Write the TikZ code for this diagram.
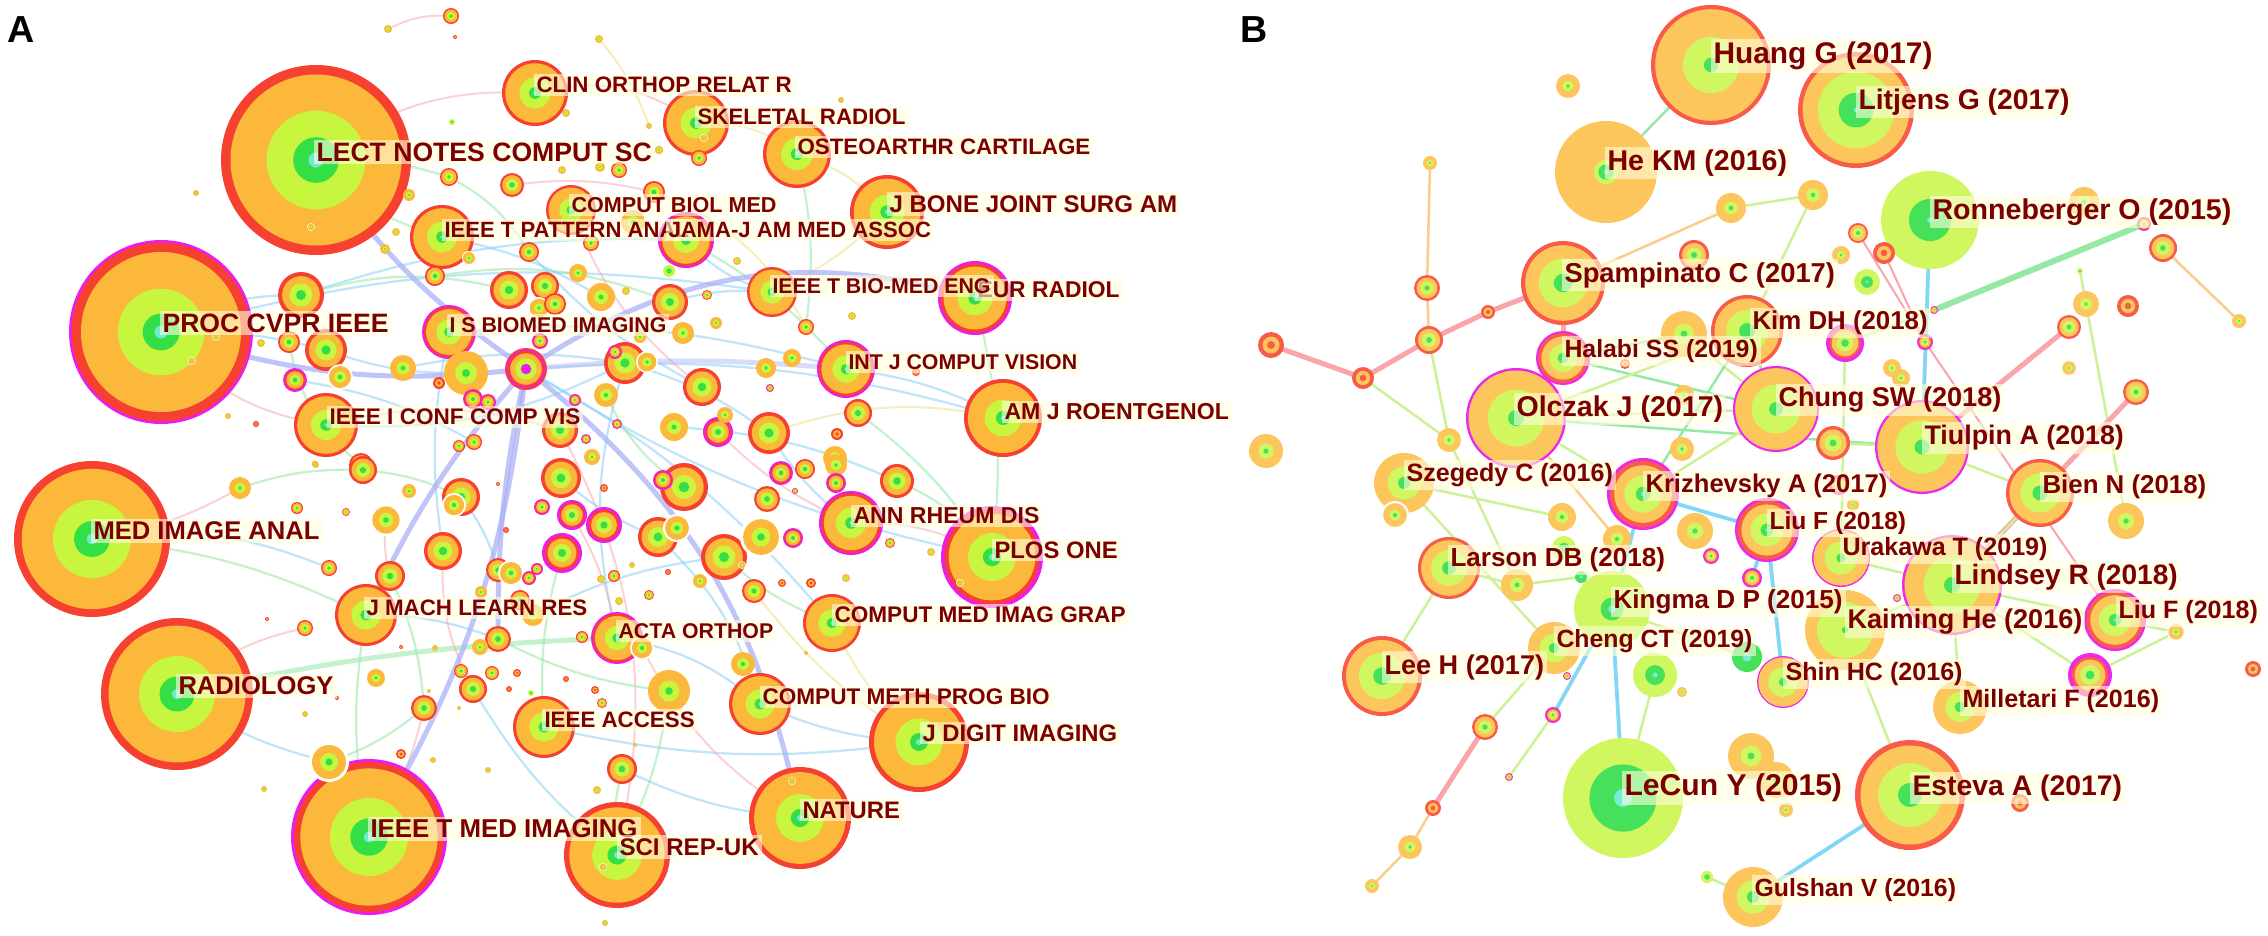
\documentclass[tikz,border=0pt]{standalone}
\usepackage{fontspec}
\setmainfont{Liberation Sans}

% ring colours (panel A)
\definecolor{rred}{RGB}{246,64,48}
\definecolor{rorg}{RGB}{252,184,58}
\definecolor{rlime}{RGB}{200,246,62}
\definecolor{rgrn}{RGB}{52,222,70}
\definecolor{rcyan}{RGB}{110,235,205}
\definecolor{rmag}{RGB}{236,28,236}
% ring colours (panel B, lighter)
\definecolor{qred}{RGB}{248,92,72}
\definecolor{qorg}{RGB}{252,198,92}
\definecolor{qlime}{RGB}{208,246,96}
\definecolor{qgrn}{RGB}{70,225,90}
\definecolor{qcyan}{RGB}{120,235,210}
\definecolor{qmag}{RGB}{236,40,236}
% text and links
\definecolor{lblred}{RGB}{125,0,0}
\definecolor{lblbg}{RGB}{255,255,222}
\definecolor{lavcol}{RGB}{170,178,246}
\definecolor{bluecol}{RGB}{130,205,245}
\definecolor{greencol}{RGB}{150,232,165}
\definecolor{pinkcol}{RGB}{250,165,170}
\definecolor{yelcol}{RGB}{240,225,140}
\definecolor{limecol}{RGB}{205,242,150}
\definecolor{orgcol}{RGB}{250,205,140}
\definecolor{cyancol}{RGB}{130,215,245}

% rings: colour/fraction of radius, outside in
\def\ringf{rred/1,rorg/0.82,rlime/0.5,rgrn/0.22}
\def\ringm{rmag/1,rred/0.85,rorg/0.72,rlime/0.45,rgrn/0.2}
\def\ringo{rorg/1,rlime/0.5,rgrn/0.18}
\def\ringw{white/1,rorg/0.85,rlime/0.45,rgrn/0.18}
\def\ringr{rred/1,rorg/0.65,rred/0.3}
\def\ringl{rlime/1,rgrn/0.45,rcyan/0.12}
\def\ringh{rred/1,rmag/0.92,rred/0.85,rorg/0.75,rlime/0.5,rmag/0.25}
\def\ringlect{rred/1,rorg/0.9,rlime/0.52,rgrn/0.24,rcyan/0.08}
\def\ringproc{rmag/1,rred/0.97,rorg/0.87,rlime/0.47,rgrn/0.2,rcyan/0.07}
\def\ringbig{rred/1,rorg/0.9,rlime/0.5,rgrn/0.23,rcyan/0.07}
\def\ringbigm{rmag/1,rred/0.96,rorg/0.88,rlime/0.5,rgrn/0.24,rcyan/0.07}
\def\ringmid{rred/1,rorg/0.9,rlime/0.47,rgrn/0.18,rcyan/0.06}
\def\ringmidm{rmag/1,rred/0.93,rorg/0.85,rlime/0.47,rgrn/0.18,rcyan/0.06}
\def\ringF{qred/1,qorg/0.8,qlime/0.5,qgrn/0.2}
\def\ringM{qmag/1,qred/0.82,qorg/0.7,qlime/0.45,qgrn/0.2}
\def\ringO{qorg/1,qlime/0.45,qgrn/0.15}
\def\ringW{white/1,qorg/0.85,qlime/0.4,qgrn/0.15}
\def\ringR{qred/1,qorg/0.65,qred/0.3}
\def\ringL{qlime/1,qgrn/0.45,qcyan/0.12}
\def\ringG{qgrn/1,qcyan/0.3}
\def\ringhuang{qred/1,qorg/0.93,qlime/0.47,qgrn/0.12}
\def\ringhekm{qorg/1,qlime/0.24,qgrn/0.15,qcyan/0.05}
\def\ringlitjens{qred/1,qorg/0.92,qlime/0.66,qgrn/0.3,qcyan/0.04}
\def\ringronne{qlime/1,qgrn/0.43,qcyan/0.06}
\def\ringlecun{qlime/1,qgrn/0.56,qcyan/0.15}
\def\ringkingma{qlime/1,qgrn/0.3,qcyan/0.1}
\def\ringbf{qred/1,qorg/0.9,qlime/0.58,qgrn/0.22}
\def\ringbm{qmag/1,qorg/0.95,qlime/0.57,qgrn/0.16}
\def\ringbmr{qmag/1,qred/0.92,qorg/0.8,qlime/0.52,qgrn/0.2,qcyan/0.06}
\def\ringbo{qorg/1,qlime/0.55,qgrn/0.2}
\def\ringkaim{qorg/1,qlime/0.7,qgrn/0.08}

% one citation node: name, outer radius, ring kind
\newcommand{\ringnode}[3]{%
  \expandafter\let\expandafter\ringlist\csname ring#3\endcsname
  \foreach \rc/\rf in \ringlist {\fill[fill=\rc] (#1) circle ({#2*\rf});}%
}

% small nodes: name/x/y/radius/kind
\def\dotsA{a1/451/16/8/f,a2/388/29/4/o,a3/455/37/2/r,a4/311/227/4/w,a5/216/337/4/w,a6/192/361/4/w,
a7/449/177/9/f,a8/512/185/12/f,a9/301/295/23/f,a10/289/342/11/f,a11/326/350/21/f,a12/340/377/13/w,
a13/295/380/12/m,a14/403/368/13/o,a15/466/373/22/o,hubA/526/369/21/h,a17/509/290/19/f,a18/545/286/14/f,
a19/539/308/11/w,a20/555/304/11/f,a21/540/341/8/m,a22/529/252/10/f,a23/435/276/10/f,a24/469/258/7/w,
a25/439/383/6/r,a26/473/399/10/m,a27/488/402/8/m,a28/474/442/8/f,a29/459/446/6/f,a30/560/430/18/f,
a31/409/195/6/o,a32/385/249/5/o,a33/396/232/4/o,a34/196/193/3/o,a35/261/343/4/o,a36/228/416/3/o,
a37/256/424/3/r,a38/315/464/4/w,a39/361/465/12/f,a40/566/113/4/o,a41/562/170/4/o,a42/452/122/3/l,
a43/599/39/4/o,a44/704/138/4/w,a45/699/158/8/f,a46/649/126/3/o,a47/841/100/3/o,a48/659/150/5/w,
a49/619/170/8/f,a50/600/167/5/o,a51/654/192/11/f,a52/633/222/12/o,a53/591/243/8/f,a54/737/261/4/o,
a55/578/273/9/o,a56/669/271/6/l,a57/601/297/14/o,a58/626/291/4/o,a59/670/302/18/f,a60/707/295/5/f,
a61/683/333/11/o,a62/640/337/6/o,a63/716/323/6/o,a64/806/327/8/f,a65/852/316/4/o,a66/625/363/21/f,
a67/647/362/11/w,a68/615/352/7/m,a69/702/387/19/f,a70/606/395/12/o,a71/575/400/6/m,a72/617/424/5/m,
a73/586/439/5/m,a74/592/457/8/o,a75/674/427/14/o,a76/718/432/15/m,a77/725/415/8/o,a78/769/433/21/f,
a79/766/368/10/o,a80/792/358/9/o,a81/770/388/4/m,a82/916/372/4/r,a83/858/413/14/f,a84/837/434/6/r,
a85/835/458/12/o,a86/240/488/11/o,a87/297/508/6/f,a88/346/512/4/f,a89/363/470/14/f,a90/316/465/3/o,
a91/386/520/16/w,a92/409/491/7/o,a93/461/497/19/f,a94/454/505/12/w,a95/443/551/19/f,a96/390/576/15/f,
a97/329/568/8/f,a98/305/628/8/f,a99/267/619/2/r,a100/498/570/12/f,a101/511/573/13/w,a102/529/578/7/m,
a103/537/569/6/m,a104/498/639/13/f,a105/480/647/8/o,a106/481/592/6/o,a107/533/615/11/o,a108/520/600/10/f,
a109/435/648/3/o,a110/401/647/2/r,a111/376/678/9/o,a112/461/671/7/f,a113/473/689/14/f,a114/492/673/7/f,
a115/517/673/4/r,a116/509/689/3/r,a117/424/708/13/f,a118/429/691/2/o,a119/459/708/2/o,a120/401/754/5/r,
a121/433/760/3/o,a122/488/770/3/o,a123/305/714/3/o,a124/337/698/2/r,a125/264/789/3/o,a126/561/478/20/f,
a127/542/507/8/m,a128/572/515/15/m,a129/562/553/20/m,a130/498/484/2/r,a131/506/530/3/r,a132/531/693/3/l,
a133/566/679/3/r,a134/329/762/20/w,a135/684/487/24/f,a136/663/480/10/m,a137/781/473/12/m,a138/805/469/10/f,
a139/836/465/11/o,a140/836/483/10/m,a141/897/481/17/f,a142/795/491/3/m,a143/604/488/4/r,a145/604/525/18/m,
a146/658/537/20/f,a147/677/528/14/w,a148/724/557/23/f,a149/761/537/21/w,a150/767/499/13/f,a151/793/538/10/m,
a152/742/565/4/w,a153/700/581/7/o,a154/754/591/12/f,a155/782/583/4/r,a156/811/583/5/r,a157/846/578/4/o,
a158/614/576/6/f,a159/601/579/4/o,a160/632/565/3/o,a161/668/572/3/r,a162/649/595/5/f,a163/619/601/4/o,
a164/890/543/5/f,a165/931/552/4/o,a166/960/583/4/w,a167/806/653/2/o,a168/642/648/12/w,a169/582/637/6/f,
a170/743/664/12/o,a171/669/691/21/o,a172/602/703/5/f,a173/595/690/4/r,a174/635/745/2/o,a175/622/769/15/f,
a176/597/790/4/o,a177/792/781/4/w,a178/603/867/4/w,a179/605/923/3/o}

\def\dotsB{b1/1568/86/12/O,b2/1430/163/7/O,b3/1427/288/13/F,b4/1429/340/14/F,b5/1488/312/7/R,b6/1271/345/13/R,
b7/1363/378/11/R,b8/1694/255/15/F,b9/1731/208/15/O,b10/1625/364/5/R,b11/1684/334/23/O,b12/1684/395/10/O,
b13/1266/451/17/O,b14/1449/440/12/O,b15/1682/449/12/O,b16/1813/195/15/O,b17/1858/233/10/F,b18/1884/253/11/R,
b19/1841/255/9/O,b20/1867/282/13/L,b21/2084/202/15/O,b22/2144/224/7/M,b23/2163/248/14/F,b24/2239/321/7/O,
b25/1934/310/4/M,b26/2080/271/3/L,b27/2086/304/13/O,b28/2128/306/11/R,b29/2069/327/12/F,b30/2069/368/8/W,
b31/2136/392/13/F,b32/1845/343/19/M,b33/1925/342/8/M,b34/1833/443/17/F,b35/1892/368/9/O,b36/1901/378/9/O,
b37/1395/515/14/W,b38/1562/517/14/O,b39/1617/539/14/O,b40/1695/531/18/O,b41/1711/556/8/M,b42/1517/585/16/O,
b43/1564/548/12/L,b44/1581/577/6/G,b45/1655/675/22/L,b46/1682/692/6/W,b47/1567/676/4/M,b48/1553/715/8/M,
b49/1485/727/13/F,b50/1509/777/4/M,b51/1433/808/8/R,b52/1410/847/12/O,b53/1372/886/7/O,b54/1707/877/6/L,
b55/1853/505/6/O,b56/1839/485/10/M,b57/1752/578/10/M,b58/1747/657/15/G,b59/1897/598/4/M,b60/2126/521/18/O,
b61/2176/632/9/W,b62/2090/675/22/M,b63/2253/669/8/R,b64/1751/756/23/O,b65/1776/780/18/O,b66/2020/803/9/R,
b67/1786/810/7/O}

\begin{document}
\begin{tikzpicture}[
    x=0.014cm, y=-0.014cm,
    % Styles
    lbl/.style={ % Node labels
        anchor=west,
        text=lblred,
        fill=lblbg,
        fill opacity=0.6,
        text opacity=1,
        inner sep=1.2pt,
        font=\fontsize{#1}{#1}\selectfont\bfseries
    },
    panel/.style={ % Panel letters
        font=\fontsize{15pt}{15pt}\selectfont\bfseries,
        inner sep=0pt
    },
    elav/.style={draw=lavcol, line width=2pt, opacity=0.75}, % strong links A
    eblue/.style={draw=bluecol, line width=0.9pt, opacity=0.5},
    egreen/.style={draw=greencol, line width=0.9pt, opacity=0.55},
    epink/.style={draw=pinkcol, line width=0.8pt, opacity=0.5},
    eyel/.style={draw=yelcol, line width=0.8pt, opacity=0.6},
    blime/.style={draw=limecol, line width=1pt}, % links B
    bgreen/.style={draw=greencol, line width=1pt},
    bpink/.style={draw=pinkcol, line width=2pt},
    bpinkt/.style={draw=pinkcol, line width=0.8pt},
    borange/.style={draw=orgcol, line width=1pt},
    bcyan/.style={draw=cyancol, line width=1.5pt},
    bthick/.style={draw=greencol, line width=2.4pt}
]

    \fill[white] (0,0) rectangle (2268,935);
    \useasboundingbox (0,0) rectangle (2268,935);

    % Journals (panel A)
    \coordinate (lect) at (316,160);
    \coordinate (proc) at (161,332);
    \coordinate (medimg) at (92,539);
    \coordinate (radiol) at (177,694);
    \coordinate (ieeetmi) at (369,837);
    \coordinate (clin) at (535,93);
    \coordinate (skel) at (696,123);
    \coordinate (osteo) at (797,154);
    \coordinate (jbone) at (887,212);
    \coordinate (jama) at (686,240);
    \coordinate (ieeepat) at (442,237);
    \coordinate (compbiol) at (571,210);
    \coordinate (isbiomed) at (449,332);
    \coordinate (ieeebme) at (772,292);
    \coordinate (eurrad) at (975,298);
    \coordinate (ieeeconf) at (326,425);
    \coordinate (ijcv) at (846,369);
    \coordinate (amjr) at (1003,418);
    \coordinate (jmach) at (366,615);
    \coordinate (ieeeacc) at (544,727);
    \coordinate (annrheum) at (851,523);
    \coordinate (plos) at (992,557);
    \coordinate (cmig) at (832,623);
    \coordinate (acta) at (617,638);
    \coordinate (cmpb) at (760,704);
    \coordinate (jdigit) at (919,742);
    \coordinate (nature) at (800,818);
    \coordinate (scirep) at (617,855);

    % References (panel B)
    \coordinate (huang) at (1711,65);
    \coordinate (hekm) at (1606,172);
    \coordinate (litjens) at (1856,110);
    \coordinate (ronne) at (1930,220);
    \coordinate (spamp) at (1563,283);
    \coordinate (halabi) at (1563,358);
    \coordinate (olczak) at (1516,418);
    \coordinate (kimdh) at (1747,331);
    \coordinate (chung) at (1776,409);
    \coordinate (tiulpin) at (1922,447);
    \coordinate (szeg) at (1404,483);
    \coordinate (krizh) at (1643,494);
    \coordinate (larson) at (1449,568);
    \coordinate (kingma) at (1612,609);
    \coordinate (cheng) at (1554,648);
    \coordinate (leeh) at (1382,676);
    \coordinate (lecun) at (1623,798);
    \coordinate (liuf1) at (1767,530);
    \coordinate (urakawa) at (1841,558);
    \coordinate (lindsey) at (1952,585);
    \coordinate (kaiming) at (1845,630);
    \coordinate (shinhc) at (1783,682);
    \coordinate (milletari) at (1960,707);
    \coordinate (liuf2) at (2115,620);
    \coordinate (bien) at (2040,493);
    \coordinate (esteva) at (1910,795);
    \coordinate (gulshan) at (1753,897);

    % Small nodes
    \foreach \dn/\dx/\dy/\dr/\dk in \dotsA {\coordinate (\dn) at (\dx,\dy);}
    \foreach \dn/\dx/\dy/\dr/\dk in \dotsB {\coordinate (\dn) at (\dx,\dy);}

    % Co-citation links, panel A
    \draw[epink] (a1) to[bend right=15] (a2);
    \draw[eblue] (proc) to[bend left=15] (a9);
    \draw[epink] (proc) to[bend right=20] (ieeeconf);
    \draw[eblue] (proc) to[bend left=8] (a11);
    \draw[eblue] (proc) to[bend left=12] (ieeebme);
    \draw[epink] (lect) to[bend left=20] (clin);
    \draw[egreen] (lect) to[bend right=15] (ieeepat);
    \draw[egreen] (lect) to[bend left=10] (a7);
    \draw[epink] (clin) to[bend left=25] (skel);
    \draw[eyel] (skel) to[bend left=20] (osteo);
    \draw[eyel] (osteo) to[bend left=15] (jbone);
    \draw[egreen] (osteo) to[bend left=10] (a64);
    \draw[eblue] (jama) to[bend right=15] (ieeebme);
    \draw[egreen] (jama) to[bend left=10] (ijcv);
    \draw[eblue] (isbiomed) to[bend left=10] (ijcv);
    \draw[eblue] (ieeeconf) to[bend right=15] (a66);
    \draw[epink] (ieeeconf) to[bend left=15] (a30);
    \draw[eblue] (hubA) to[bend left=10] (amjr);
    \draw[eblue] (hubA) to[bend right=10] (plos);
    \draw[eblue] (hubA) to[bend left=10] (cmig);
    \draw[egreen] (medimg) to[bend left=10] (jmach);
    \draw[epink] (medimg) to[bend right=10] (a86);
    \draw[eblue] (medimg) to[bend left=15] (a97);
    \draw[egreen, line width=2pt] (radiol) to[bend left=5] (acta);
    \draw[eblue] (radiol) to[bend right=10] (a134);
    \draw[epink] (radiol) to[bend left=15] (a98);
    \draw[egreen] (jmach) to[bend right=10] (ieeetmi);
    \draw[eblue] (jmach) to[bend left=10] (a104);
    \draw[epink] (a134) to[bend left=10] (ieeetmi);
    \draw[egreen] (a134) to[bend right=10] (a117);
    \draw[eblue] (ieeeacc) to[bend right=10] (jdigit);
    \draw[eblue] (acta) to[bend left=15] (cmpb);
    \draw[egreen] (scirep) to[bend left=10] (a175);
    \draw[eblue] (cmpb) to[bend right=10] (jdigit);
    \draw[epink] (annrheum) to[bend left=15] (plos);
    \draw[egreen] (a148) to[bend right=10] (cmig);
    \draw[eblue] (ijcv) to[bend left=10] (amjr);
    \draw[egreen] (eurrad) to[bend left=10] (plos);
    \draw[eblue] (a78) to[bend right=10] (annrheum);
    \draw[eyel] (a78) to[bend left=15] (amjr);
    \draw[epink] (a30) to[bend left=20] (scirep);
    \draw[eblue] (a66) to[bend right=15] (acta);
    \draw[eblue] (a66) to[bend left=10] (a78);
    \draw[eyel] (jbone) to[bend left=10] (ieeebme);
    \draw[eblue] (isbiomed) to[bend right=10] (a95);
    \draw[epink] (a117) to[bend left=10] (ieeetmi);
    \draw[eblue] (a113) to[bend right=10] (scirep);
    \draw[egreen] (a89) to[bend left=10] (a93);
    \draw[eblue] (a9) to[bend left=10] (jama);
    \draw[egreen] (a9) to[bend left=15] (a17);
    \draw[eblue] (a11) to[bend right=10] (a15);
    \draw[eblue] (a14) to[bend left=10] (a66);
    \draw[egreen] (a10) to[bend right=20] (a39);
    \draw[eblue] (a13) to[bend left=10] (a28);
    \draw[egreen] (a23) to[bend left=15] (a59);
    \draw[eblue] (a22) to[bend right=10] (a69);
    \draw[eblue] (ieeepat) to[bend left=10] (a57);
    \draw[epink] (compbiol) to[bend right=15] (a69);
    \draw[eyel] (a51) to[bend left=20] (a64);
    \draw[egreen] (a70) to[bend right=15] (a135);
    \draw[eblue] (a75) to[bend left=10] (a141);
    \draw[epink] (a76) to[bend right=10] (annrheum);
    \draw[egreen] (a83) to[bend left=10] (plos);
    \draw[eblue] (a126) to[bend right=10] (a146);
    \draw[epink] (a128) to[bend left=10] (acta);
    \draw[egreen] (a129) to[bend right=10] (ieeeacc);
    \draw[eblue] (a93) to[bend left=10] (a100);
    \draw[epink] (a95) to[bend right=15] (a113);
    \draw[egreen] (a96) to[bend left=10] (a117);
    \draw[egreen] (a104) to[bend right=10] (a171);
    \draw[eblue] (a107) to[bend left=10] (a148);
    \draw[eblue] (a146) to[bend left=15] (cmpb);
    \draw[eyel] (a154) to[bend right=10] (jdigit);
    \draw[epink] (a168) to[bend right=15] (nature);
    \draw[egreen] (a171) to[bend left=10] (scirep);
    \draw[eblue] (a175) to[bend right=10] (nature);
    \draw[egreen] (a86) to[bend left=10] (a89);
    \draw[epink] (a91) to[bend right=10] (a96);
    \draw[epink] (a8) to[bend left=10] (a51);
    \draw[egreen] (a7) to[bend left=15] (a22);
    \draw[eyel] (a43) to[bend left=10] (a46);
    \draw[eblue] (a59) to[bend left=10] (ieeebme);
    \draw[egreen] (a141) to[bend left=15] (plos);
    \draw[eyel] (cmig) to[bend right=10] (jdigit);
    \draw[elav] (lect) to[bend right=10] (hubA);
    \draw[elav] (proc) to[bend right=12] (hubA);
    \draw[elav] (hubA) to[bend left=25] (eurrad);
    \draw[elav] (hubA) to[bend left=12] (ieeetmi);
    \draw[elav] (hubA) to[bend left=20] (nature);
    \draw[elav] (hubA) to[bend right=6] (a104);
    \draw[elav] (hubA) to[bend right=8] (jmach);
    \draw[elav, opacity=0.45] (hubA) to[bend left=5] (ijcv);

    % Co-citation links, panel B
    \draw[bgreen] (hekm) -- (huang);
    \draw[borange] (b2) -- (b3);
    \draw[borange] (b3) -- (b4);
    \draw[bpink] (b6) -- (b7);
    \draw[bpink] (b7) -- (b4);
    \draw[bpink] (b4) -- (b5);
    \draw[bpink] (b5) -- (spamp);
    \draw[blime] (b7) -- (b14);
    \draw[blime] (b4) -- (b14);
    \draw[blime] (b14) -- (b42);
    \draw[borange] (spamp) -- (b9);
    \draw[blime] (b9) -- (b16);
    \draw[blime] (b16) -- (kimdh);
    \draw[bpink] (spamp) -- (halabi);
    \draw[bgreen] (halabi) -- (chung);
    \draw[bgreen] (halabi) -- (b11);
    \draw[blime] (b11) -- (chung);
    \draw[blime] (olczak) -- (chung);
    \draw[blime] (olczak) -- (kimdh);
    \draw[blime] (olczak) -- (krizh);
    \draw[bgreen] (olczak) -- (tiulpin);
    \draw[borange] (olczak) -- (b39);
    \draw[bgreen] (kimdh) -- (chung);
    \draw[bpinkt] (b17) -- (b33);
    \draw[bpinkt] (b18) -- (b33);
    \draw[bcyan] (ronne) -- (tiulpin);
    \draw[bthick] (b25) -- (b22);
    \draw[blime] (b25) -- (b32);
    \draw[borange] (b23) -- (b24);
    \draw[blime] (b26) -- (b27);
    \draw[blime] (b27) -- (b60);
    \draw[bpink] (b29) -- (tiulpin);
    \draw[bpink] (b31) -- (lindsey);
    \draw[bpinkt] (b33) -- (liuf2);
    \draw[blime] (b34) -- (tiulpin);
    \draw[bcyan] (b35) -- (b36);
    \draw[blime] (lindsey) -- (liuf2);
    \draw[blime] (lindsey) -- (b62);
    \draw[blime] (b62) -- (b61);
    \draw[blime] (lindsey) -- (bien);
    \draw[blime] (kaiming) -- (lindsey);
    \draw[blime] (urakawa) -- (lindsey);
    \draw[bcyan] (esteva) -- (gulshan);
    \draw[blime] (esteva) -- (kaiming);
    \draw[bcyan] (lecun) -- (kingma);
    \draw[blime] (lecun) -- (b45);
    \draw[blime] (b54) -- (gulshan);
    \draw[blime] (leeh) -- (larson);
    \draw[blime] (b49) -- (cheng);
    \draw[bpink] (b49) -- (b51);
    \draw[borange] (b51) -- (b52);
    \draw[borange] (b52) -- (b53);
    \draw[blime] (b50) -- (b48);
    \draw[bcyan] (b48) -- (kingma);
    \draw[blime] (cheng) -- (kingma);
    \draw[blime] (larson) -- (b42);
    \draw[blime] (b42) -- (b44);
    \draw[blime] (b44) -- (kingma);
    \draw[bcyan] (krizh) -- (kingma);
    \draw[bcyan] (krizh) -- (liuf1);
    \draw[bcyan] (liuf1) -- (b57);
    \draw[blime] (b58) -- (kingma);
    \draw[bcyan] (shinhc) -- (liuf1);
    \draw[blime] (szeg) -- (b38);
    \draw[blime] (szeg) -- (cheng);
    \draw[blime] (chung) -- (krizh);
    \draw[bgreen] (kimdh) -- (krizh);
    \draw[blime] (b32) -- (urakawa);
    \draw[blime] (milletari) -- (lindsey);
    \draw[blime] (liuf2) -- (b61);
    \draw[blime] (bien) -- (tiulpin);

    % Journal nodes
    \ringnode{lect}{95}{lect}
    \ringnode{proc}{92}{proc}
    \ringnode{medimg}{78}{big}
    \ringnode{radiol}{76}{big}
    \ringnode{ieeetmi}{78}{bigm}
    \ringnode{clin}{33}{mid}
    \ringnode{skel}{33}{mid}
    \ringnode{osteo}{34}{mid}
    \ringnode{jbone}{37}{mid}
    \ringnode{jama}{28}{midm}
    \ringnode{ieeepat}{32}{mid}
    \ringnode{compbiol}{25}{mid}
    \ringnode{isbiomed}{27}{midm}
    \ringnode{ieeebme}{25}{mid}
    \ringnode{eurrad}{37}{midm}
    \ringnode{ieeeconf}{32}{mid}
    \ringnode{ijcv}{29}{midm}
    \ringnode{amjr}{39}{mid}
    \ringnode{jmach}{31}{mid}
    \ringnode{ieeeacc}{31}{mid}
    \ringnode{annrheum}{32}{midm}
    \ringnode{plos}{51}{midm}
    \ringnode{cmig}{29}{mid}
    \ringnode{acta}{26}{midm}
    \ringnode{cmpb}{31}{mid}
    \ringnode{jdigit}{50}{mid}
    \ringnode{nature}{51}{mid}
    \ringnode{scirep}{53}{mid}

    % Reference nodes
    \ringnode{huang}{60}{huang}
    \ringnode{hekm}{51}{hekm}
    \ringnode{litjens}{58}{litjens}
    \ringnode{ronne}{49}{ronne}
    \ringnode{spamp}{42}{bf}
    \ringnode{olczak}{50}{bm}
    \ringnode{halabi}{27}{bmr}
    \ringnode{kimdh}{36}{bf}
    \ringnode{chung}{43}{bm}
    \ringnode{tiulpin}{47}{bm}
    \ringnode{szeg}{30}{bo}
    \ringnode{krizh}{36}{bmr}
    \ringnode{larson}{31}{bf}
    \ringnode{kingma}{38}{kingma}
    \ringnode{cheng}{26}{bo}
    \ringnode{leeh}{40}{bf}
    \ringnode{lecun}{60}{lecun}
    \ringnode{liuf1}{32}{bmr}
    \ringnode{urakawa}{29}{bm}
    \ringnode{lindsey}{50}{bm}
    \ringnode{kaiming}{40}{kaim}
    \ringnode{shinhc}{26}{bm}
    \ringnode{milletari}{27}{bo}
    \ringnode{liuf2}{31}{bmr}
    \ringnode{bien}{34}{bf}
    \ringnode{esteva}{55}{bf}
    \ringnode{gulshan}{30}{bo}

    % Small nodes
    \foreach \dn/\dx/\dy/\dr/\dk in \dotsA {\ringnode{\dn}{\dr}{\dk}}
    \foreach \dn/\dx/\dy/\dr/\dk in \dotsB {\ringnode{\dn}{\dr}{\dk}}

    % Panel letters
    \node[panel] (panA) at (21,30) {A};
    \node[panel] (panB) at (1254,30) {B};

    % Labels, panel A
    \node[lbl=10.6pt] (lectL) at (313,152) {LECT NOTES COMPUT SC};
    \node[lbl=10.6pt] (procL) at (159,323) {PROC CVPR IEEE};
    \node[lbl=10.2pt] (medimgL) at (90,531) {MED IMAGE ANAL};
    \node[lbl=10.2pt] (radiolL) at (175,686) {RADIOLOGY};
    \node[lbl=10.3pt] (ieeetmiL) at (367,829) {IEEE T MED IMAGING};
    \node[lbl=8.9pt] (clinL) at (533,85) {CLIN ORTHOP RELAT R};
    \node[lbl=8.9pt] (skelL) at (694,117) {SKELETAL RADIOL};
    \node[lbl=8.9pt] (osteoL) at (794,147) {OSTEOARTHR CARTILAGE};
    \node[lbl=9.6pt] (jboneL) at (886,204) {J BONE JOINT SURG AM};
    \node[lbl=8.6pt] (compbiolL) at (568,205) {COMPUT BIOL MED};
    \node[lbl=8.8pt] (ieeepatL) at (441,230) {IEEE T PATTERN ANAL};
    \node[lbl=8.8pt] (jamaL) at (665,230) {JAMA-J AM MED ASSOC};
    \node[lbl=8.5pt] (isbiomedL) at (446,325) {I S BIOMED IMAGING};
    \node[lbl=9.1pt] (eurradL) at (974,290) {EUR RADIOL};
    \node[lbl=8.5pt] (ieeebmeL) at (769,286) {IEEE T BIO-MED ENG};
    \node[lbl=9pt] (ieeeconfL) at (326,417) {IEEE I CONF COMP VIS};
    \node[lbl=8.5pt] (ijcvL) at (845,362) {INT J COMPUT VISION};
    \node[lbl=9.2pt] (amjrL) at (1001,412) {AM J ROENTGENOL};
    \node[lbl=8.9pt] (jmachL) at (363,608) {J MACH LEARN RES};
    \node[lbl=8.9pt] (ieeeaccL) at (541,720) {IEEE ACCESS};
    \node[lbl=9.2pt] (annrheumL) at (850,516) {ANN RHEUM DIS};
    \node[lbl=9.5pt] (plosL) at (991,550) {PLOS ONE};
    \node[lbl=9pt] (cmigL) at (831,615) {COMPUT MED IMAG GRAP};
    \node[lbl=8.5pt] (actaL) at (615,631) {ACTA ORTHOP};
    \node[lbl=9pt] (cmpbL) at (759,697) {COMPUT METH PROG BIO};
    \node[lbl=9.5pt] (jdigitL) at (919,733) {J DIGIT IMAGING};
    \node[lbl=9.5pt] (natureL) at (799,810) {NATURE};
    \node[lbl=9.6pt] (scirepL) at (616,847) {SCI REP-UK};

    % Labels, panel B
    \node[lbl=11.9pt] (huangL) at (1710,56) {Huang G (2017)};
    \node[lbl=11.4pt] (hekmL) at (1604,163) {He KM (2016)};
    \node[lbl=11.3pt] (litjensL) at (1855,102) {Litjens G (2017)};
    \node[lbl=11.4pt] (ronneL) at (1929,212) {Ronneberger O (2015)};
    \node[lbl=10.9pt] (spampL) at (1561,275) {Spampinato C (2017)};
    \node[lbl=10.3pt] (kimdhL) at (1749,323) {Kim DH (2018)};
    \node[lbl=9.9pt] (halabiL) at (1561,351) {Halabi SS (2019)};
    \node[lbl=10.8pt] (chungL) at (1775,400) {Chung SW (2018)};
    \node[lbl=11.4pt] (olczakL) at (1513,409) {Olczak J (2017)};
    \node[lbl=10.7pt] (tiulpinL) at (1921,438) {Tiulpin A (2018)};
    \node[lbl=10pt] (szegL) at (1403,475) {Szegedy C (2016)};
    \node[lbl=10.2pt] (krizhL) at (1642,486) {Krizhevsky A (2017)};
    \node[lbl=10.3pt] (bienL) at (2039,487) {Bien N (2018)};
    \node[lbl=9.8pt] (liuf1L) at (1766,523) {Liu F (2018)};
    \node[lbl=10pt] (urakawaL) at (1839,549) {Urakawa T (2019)};
    \node[lbl=10.4pt] (larsonL) at (1447,560) {Larson DB (2018)};
    \node[lbl=11.2pt] (lindseyL) at (1951,577) {Lindsey R (2018)};
    \node[lbl=10.4pt] (kingmaL) at (1610,602) {Kingma D P (2015)};
    \node[lbl=10pt] (liuf2L) at (2115,612) {Liu F (2018)};
    \node[lbl=10.8pt] (kaimingL) at (1844,622) {Kaiming He (2016)};
    \node[lbl=9.9pt] (chengL) at (1553,641) {Cheng CT (2019)};
    \node[lbl=10.8pt] (leehL) at (1381,667) {Lee H (2017)};
    \node[lbl=10pt] (shinhcL) at (1782,674) {Shin HC (2016)};
    \node[lbl=10pt] (milletariL) at (1959,701) {Milletari F (2016)};
    \node[lbl=12pt] (lecunL) at (1621,788) {LeCun Y (2015)};
    \node[lbl=11.3pt] (estevaL) at (1909,788) {Esteva A (2017)};
    \node[lbl=9.9pt] (gulshanL) at (1751,890) {Gulshan V (2016)};

\end{tikzpicture}
\end{document}
